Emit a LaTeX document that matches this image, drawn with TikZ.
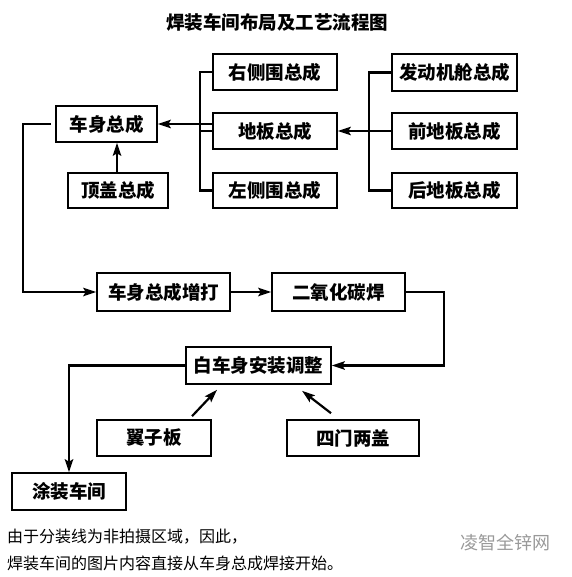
\documentclass[tikz,border=0pt]{standalone}
\usepackage{fontspec}
\setmainfont{Noto Sans CJK SC}[BoldFont={Noto Sans CJK SC Black}]
\usetikzlibrary{arrows.meta,calc}
\begin{document}
\begin{tikzpicture}[x=1pt,y=-1pt,
  box/.style={draw=black,line width=1.6pt,minimum height=36pt,inner sep=0pt,font=\fontsize{18.5}{20}\selectfont\bfseries},
  conn/.style={line width=2.2pt},
  arr/.style={conn,-{Stealth[length=13pt,width=8.5pt,inset=2.5pt]}},
  note/.style={font=\fontsize{16}{18}\selectfont,anchor=west,inner sep=0pt}]
\useasboundingbox (0,0) rectangle (571,577);
\node[font=\fontsize{18.5}{20}\selectfont\bfseries] (title) at (277,22) {焊装车间布局及工艺流程图};
% boxes
\node[box,minimum width=124pt] (rc)  at (275,72)    {右侧围总成};
\node[box,minimum width=124pt] (fl)  at (275,131)   {地板总成};
\node[box,minimum width=124pt,minimum height=35pt] (lc)  at (275,190.5) {左侧围总成};
\node[box,minimum width=125pt,minimum height=37pt] (eng) at (454.5,72.5) {发动机舱总成};
\node[box,minimum width=125pt] (ffl) at (454.5,131) {前地板总成};
\node[box,minimum width=125pt,minimum height=35pt] (rfl) at (454.5,190.5) {后地板总成};
\node[box,minimum width=101pt] (body) at (106.5,124) {车身总成};
\node[box,minimum width=100pt,minimum height=35pt] (roof) at (118,190.5) {顶盖总成};
\node[box,minimum width=133pt,minimum height=38pt] (weld) at (163.5,292) {车身总成增打};
\node[box,minimum width=133pt,minimum height=38pt] (co2)  at (338.5,292) {二氧化碳焊};
\node[box,minimum width=145pt,minimum height=37pt] (biw)  at (258.5,365.5) {白车身安装调整};
\node[box,minimum width=114pt] (fender) at (154,438) {翼子板};
\node[box,minimum width=132pt] (doors)  at (353,438) {四门两盖};
\node[box,minimum width=114pt,minimum height=37pt] (paint) at (69,491.5) {涂装车间};
% connectors
\draw[conn] (rc.west) -- ++(-12,0) |- (lc.west);
\draw[arr] (fl.west |- body.east) -- (body.east);
\draw[conn] (fl.west) -- ++(-12,0);
\draw[conn] (eng.west) -- ++(-22,0) |- (rfl.west);
\draw[arr] (ffl.west) -- (fl.east);
\draw[arr] (roof.north -| 117,0) -- (body.south -| 117,0);
\draw[arr,shorten <=4pt] (body.west) -- (23,124) |- (weld.west);
\draw[arr] (weld.east) -- (co2.west);
\draw[arr] (co2.east) -- ++(38,0) |- (biw.east);
\draw[arr] (biw.west) -| (paint.north);
\draw[arr] ($(fender.north)+(38,-3)$) -- ($(biw.south)+(-41.5,5)$);
\draw[arr] ($(doors.north)+(-22,-6)$) -- ($(biw.south)+(43.5,6)$);
% notes
\node[note] (n1) at (7,537) {由于分装线为非拍摄区域，因此，};
\node[note] (n2) at (7,563) {焊装车间的图片内容直接从车身总成焊接开始。};
\node[font=\fontsize{18}{20}\selectfont,text=black!40,anchor=west,inner sep=0pt] (wm) at (460,543) {凌智全锌网};
\end{tikzpicture}
\end{document}
